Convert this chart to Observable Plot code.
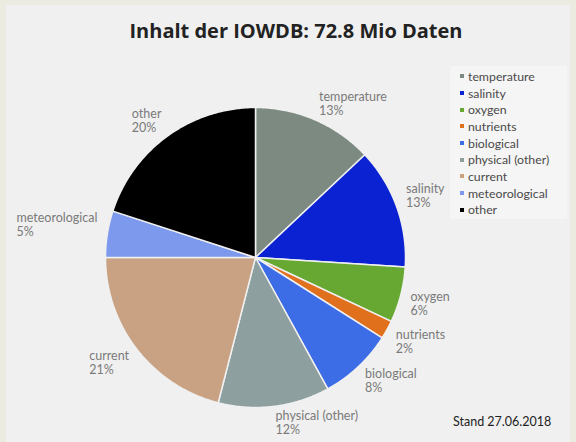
<!DOCTYPE html>
<html>
<head>
<meta charset="utf-8">
<script src="https://cdn.jsdelivr.net/npm/d3@7"></script>
<script src="https://cdn.jsdelivr.net/npm/@observablehq/plot@0.6"></script>
<style>
  html, body { margin: 0; padding: 0; background: #ecebe2; }
  #frame { position: relative; width: 576px; height: 442px; background: #ecebe2; overflow: hidden; font-family: Lato, "Liberation Sans", sans-serif; }
  #panel { position: absolute; left: 6px; top: 5px; width: 564px; height: 437px; background: #f0f0f0; }
  #title { position: absolute; left: 8px; width: 576px; top: 17px; text-align: center; font-family: "Open Sans", "DejaVu Sans", sans-serif; font-weight: 700; font-size: 20px; color: #222; }
  #chart { position: absolute; left: 0; top: 0; }
  #legend { position: absolute; left: 450px; top: 66px; width: 117px; height: 153px; background: #f5f5f5; box-sizing: border-box; padding: 2px 0 0 10px; }
  .li { display: flex; align-items: center; height: 16.7px; font-size: 12.3px; color: #4a4a4a; font-family: Lato, "Liberation Sans", sans-serif; white-space: nowrap; }
  .sw { width: 4px; height: 4px; margin-right: 4px; flex: none; }
  #caption { position: absolute; left: 453px; top: 414px; font-size: 12.5px; color: #222; font-family: Lato, "Liberation Sans", sans-serif; }
</style>
</head>
<body>
<div id="frame">
  <div id="panel"></div>
  <div id="chart"></div>
  <div id="title">Inhalt der IOWDB: 72.8 Mio Daten</div>
  <div id="legend"></div>
  <div id="caption">Stand 27.06.2018</div>
</div>
<script>
const categories = ["temperature", "salinity", "oxygen", "nutrients", "biological", "physical (other)", "current", "meteorological", "other"];
const shares = [13, 13, 6, 2, 8, 12, 21, 5, 20];
const colors = ["#7d8a82", "#0a22d2", "#66a832", "#e0701c", "#3c6ce6", "#8e9fa0", "#c8a283", "#7d99ee", "#000000"];

const W = 576, H = 442, cx = 255, cy = 257, R = 150;
const labelFontSize = 12.5;
const lineGap = 14;      // px between the two label lines
const labelR = 1.067;    // radius (pie units) of the label corner nearest the pie

const total = d3.sum(shares);
const pie = d3.pie().sort(null).value(d => d.value)(categories.map((c, i) => ({key: c, value: shares[i]})));

// slice outlines (pie units, radius 1), angles from d3.pie
const pts = [];
for (const s of pie) {
  pts.push({key: s.data.key, x: 0, y: 0});
  const n = Math.max(2, Math.ceil((s.endAngle - s.startAngle) / 0.01));
  for (let k = 0; k <= n; k++) {
    const a = s.startAngle + (s.endAngle - s.startAngle) * k / n;
    pts.push({key: s.data.key, x: Math.sin(a), y: Math.cos(a)});
  }
}

// labels: box corner facing the pie sits on the mid-angle ray
const ctx = document.createElement("canvas").getContext("2d");
ctx.font = `${labelFontSize}px Lato`;
const labelLines = [];
for (const s of pie) {
  const a = (s.startAngle + s.endAngle) / 2;
  const px = Math.sin(a) * labelR, py = Math.cos(a) * labelR;
  const name = s.data.key, pct = `${Math.round(s.data.value / total * 100)}%`;
  const w = Math.max(ctx.measureText(name).width, ctx.measureText(pct).width) / R;
  const left = px >= 0 ? px : px - w;
  const gap = lineGap / R;
  const y1 = py > 0 ? py + gap : py;
  labelLines.push({x: left, y: y1, text: name});
  labelLines.push({x: left, y: y1 - gap, text: pct});
}

const plot = Plot.plot({
  width: W, height: H,
  margin: 0,
  style: {background: "transparent", overflow: "visible"},
  x: {domain: [-cx / R, (W - cx) / R], axis: null},
  y: {domain: [-(H - cy) / R, cy / R], axis: null},
  color: {domain: categories, range: colors},
  marks: [
    Plot.line(pts, {x: "x", y: "y", z: "key", fill: "key", stroke: "#f0f0f0", strokeWidth: 1.5, curve: "linear-closed", strokeLinejoin: "round"}),
    Plot.text(labelLines, {x: "x", y: "y", text: "text", textAnchor: "start", lineAnchor: "middle",
      fontSize: labelFontSize, fill: "#7a7a7a", fontFamily: "Lato"})
  ]
});
document.getElementById("chart").appendChild(plot);

const leg = document.getElementById("legend");
categories.forEach((c, i) => {
  const row = document.createElement("div");
  row.className = "li";
  const sw = document.createElement("span");
  sw.className = "sw";
  sw.style.background = colors[i];
  row.appendChild(sw);
  row.appendChild(document.createTextNode(c));
  leg.appendChild(row);
});
</script>
</body>
</html>
